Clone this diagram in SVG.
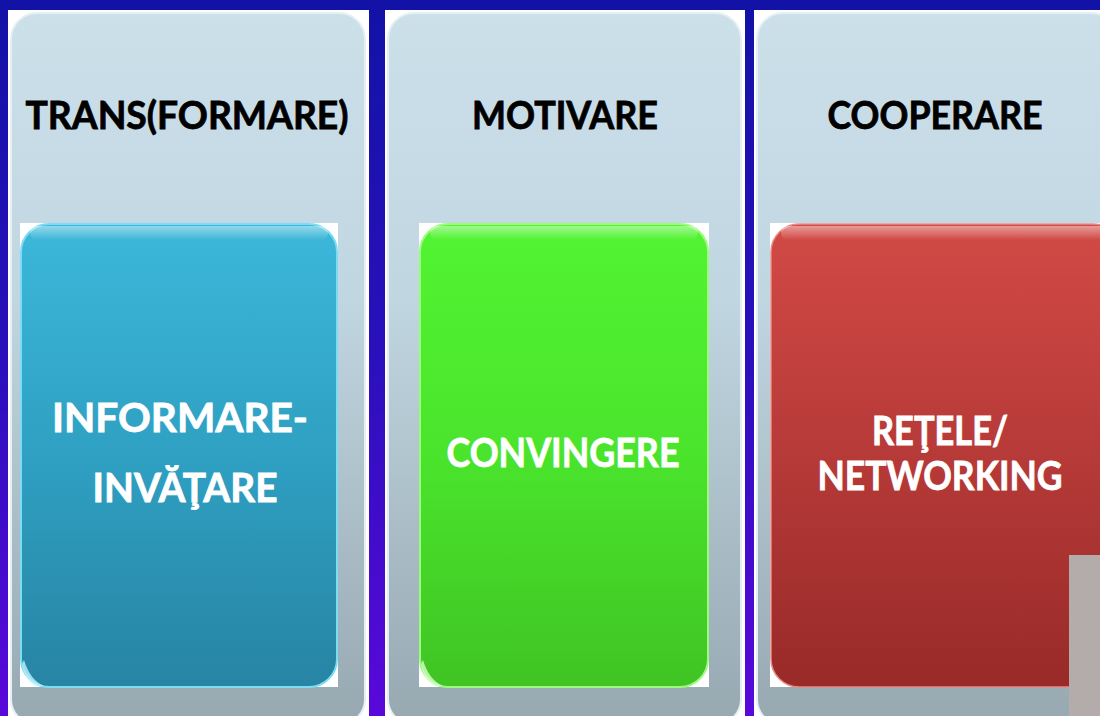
<svg xmlns="http://www.w3.org/2000/svg" width="1100" height="716" viewBox="0 0 1100 716">
<defs>
<linearGradient id="bg" x1="0" y1="0" x2="0" y2="1">
<stop offset="0" stop-color="#1212A6"/>
<stop offset="0.5" stop-color="#2A10BC"/>
<stop offset="1" stop-color="#5A08DA"/>
</linearGradient>
<linearGradient id="panel" x1="0" y1="0" x2="0" y2="1">
<stop offset="0" stop-color="#CCE0EA"/>
<stop offset="0.4" stop-color="#C0D6E0"/>
<stop offset="1" stop-color="#97A8B1"/>
</linearGradient>
<linearGradient id="blue" x1="0" y1="0" x2="0" y2="1">
<stop offset="0" stop-color="#3CB8DA"/>
<stop offset="0.5" stop-color="#2FA0C2"/>
<stop offset="1" stop-color="#2784A4"/>
</linearGradient>
<linearGradient id="green" x1="0" y1="0" x2="0" y2="1">
<stop offset="0" stop-color="#52F432"/>
<stop offset="0.5" stop-color="#4AE42C"/>
<stop offset="1" stop-color="#40C424"/>
</linearGradient>
<linearGradient id="red" x1="0" y1="0" x2="0" y2="1">
<stop offset="0" stop-color="#D24A46"/>
<stop offset="0.5" stop-color="#B63A38"/>
<stop offset="1" stop-color="#982A28"/>
</linearGradient>
<linearGradient id="gloss" x1="0" y1="0" x2="0" y2="1">
<stop offset="0" stop-color="#FFFFFF" stop-opacity="0.45"/>
<stop offset="1" stop-color="#FFFFFF" stop-opacity="0"/>
</linearGradient>
</defs>
<style>
.frame{fill:#FFFFFF;}
.panel{fill:url(#panel);stroke:#E6F0F4;stroke-width:2;}
.imgbg{fill:#FFFFFF;}
.title{font-family:Lato,"Liberation Sans",sans-serif;font-weight:bold;font-size:39px;fill:#000000;stroke:#000000;stroke-width:0.8;text-anchor:middle;}
.label{font-family:Lato,"Liberation Sans",sans-serif;font-weight:bold;font-size:41px;fill:#FFFFFF;stroke:#FFFFFF;stroke-width:0.8;text-anchor:middle;}
.gloss{fill:url(#gloss);}
.corner{fill:#BFF4FF;opacity:0.8;}
</style>
<rect x="0" y="0" width="1100" height="716" fill="url(#bg)"/>

<g id="col1">
<rect class="frame" x="8" y="10" width="361" height="720"/>
<rect class="panel" x="11" y="13" width="354" height="712" rx="26"/>
<text class="title" x="187" y="129" textLength="323" lengthAdjust="spacingAndGlyphs">TRANS(FORMARE)</text>
<rect class="imgbg" x="20" y="223" width="318" height="464"/>
<rect x="21" y="224" width="316" height="463" rx="28" fill="url(#blue)" stroke="#7EDCF2" stroke-width="2"/>
<rect class="gloss" x="30" y="226" width="298" height="14" rx="7"/>
<path class="corner" d="M24 660 Q30 680 44 686 L36 686 Q24 680 22 664 Z"/>
<text class="label" x="180" y="432" textLength="256" lengthAdjust="spacingAndGlyphs">INFORMARE-</text>
<text class="label" x="185" y="502" textLength="185" lengthAdjust="spacingAndGlyphs">INVĂŢARE</text>
</g>

<g id="col2">
<rect class="frame" x="385" y="10" width="360" height="720"/>
<rect class="panel" x="388" y="13" width="353" height="712" rx="26"/>
<text class="title" x="565" y="129" textLength="186" lengthAdjust="spacingAndGlyphs">MOTIVARE</text>
<rect class="imgbg" x="419" y="223" width="290" height="464"/>
<rect x="420" y="224" width="288" height="463" rx="28" fill="url(#green)" stroke="#9CFA7E" stroke-width="2"/>
<rect class="gloss" x="430" y="226" width="268" height="14" rx="7"/>
<path d="M423 660 Q429 680 443 686 L435 686 Q423 680 421 664 Z" fill="#D6FFC8" opacity="0.8"/>
<text class="label" x="563" y="467" textLength="233" lengthAdjust="spacingAndGlyphs">CONVINGERE</text>
</g>

<g id="col3">
<rect class="frame" x="754" y="10" width="360" height="720"/>
<rect class="panel" x="757" y="13" width="360" height="712" rx="26"/>
<text class="title" x="935" y="129" textLength="215" lengthAdjust="spacingAndGlyphs">COOPERARE</text>
<rect class="imgbg" x="770" y="223" width="340" height="464"/>
<rect x="771" y="224" width="350" height="463" rx="28" fill="url(#red)" stroke="#E88A86" stroke-width="1.5"/>
<rect class="gloss" x="781" y="226" width="330" height="14" rx="7"/>
<text class="label" x="940" y="445" textLength="136" lengthAdjust="spacingAndGlyphs">REŢELE/</text>
<text class="label" x="940" y="490" textLength="245" lengthAdjust="spacingAndGlyphs">NETWORKING</text>
</g>

<g id="connectors"/>

<rect x="1069" y="555" width="31" height="161" fill="#B4ACAA"/>
</svg>
